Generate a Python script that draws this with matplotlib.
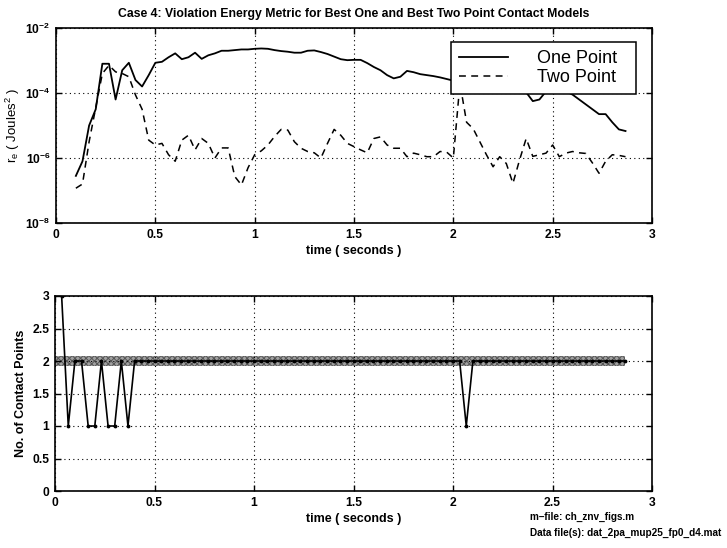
import numpy as np
import matplotlib
matplotlib.use("Agg")
import matplotlib.pyplot as plt

plt.rcParams['font.family'] = ['Liberation Sans', 'DejaVu Sans']
plt.rcParams['mathtext.fontset'] = 'custom'
plt.rcParams['mathtext.rm'] = 'Liberation Sans'
plt.rcParams['mathtext.it'] = 'Liberation Sans'
plt.rcParams['mathtext.bf'] = 'Liberation Sans:bold'
plt.rcParams['hatch.linewidth'] = 0.7

# ---- violation energy metric (log10 of r_e, Joules^2), sampled at 30 Hz from t = 0.1 s ----
t_energy_start = 0.1
sample_rate = 30.0
one_point_log = [
    -6.55, -6.10, -5.00, -4.50, -3.10, -3.10, -4.20, -3.30, -3.07, -3.60,
    -3.80, -3.45, -3.07, -3.04, -2.90, -2.78, -2.96, -2.90, -2.76, -2.95,
    -2.84, -2.78, -2.70, -2.70, -2.68, -2.66, -2.66, -2.64, -2.63, -2.64,
    -2.68, -2.71, -2.73, -2.76, -2.76, -2.70, -2.69, -2.74, -2.80, -2.88,
    -2.96, -2.99, -2.98, -2.98, -3.08, -3.20, -3.30, -3.45, -3.55, -3.50,
    -3.32, -3.36, -3.42, -3.45, -3.48, -3.52, -3.57, -3.62, -3.65, -3.70,
    -3.72, -3.75, -3.78, -3.80, -3.82, -3.85, -3.88, -3.92, -3.98, -4.25,
    -4.20, -3.95, -3.90, -3.90, -3.95, -4.05, -4.20, -4.35, -4.50, -4.65,
    -4.65, -4.90, -5.12, -5.17,
]
two_point_log = [
    -6.93, -6.80, -5.50, -4.45, -3.40, -3.15, -3.35, -3.40, -3.50, -4.06,
    -4.50, -5.45, -5.60, -5.55, -5.90, -6.10, -5.45, -5.30, -5.75, -5.40,
    -5.55, -6.00, -5.69, -5.69, -6.57, -6.83, -6.30, -5.90, -5.78, -5.60,
    -5.34, -5.12, -5.14, -5.50, -5.70, -5.80, -5.84, -6.00, -5.55, -5.12,
    -5.30, -5.55, -5.65, -5.75, -5.84, -5.40, -5.35, -5.60, -5.70, -5.70,
    -5.96, -5.85, -5.90, -5.96, -5.96, -5.80, -5.82, -6.00, -3.70, -4.90,
    -5.10, -5.50, -5.90, -6.27, -5.96, -6.17, -6.78, -6.06, -5.40, -5.95,
    -5.90, -5.85, -5.60, -5.96, -5.85, -5.80, -5.84, -5.86, -6.15, -6.47,
    -6.10, -5.90, -5.92, -5.96,
]

# ---- number of contact points, sampled at 30 Hz from t = 1/30 s ----
t_contact_start = 1.0 / 30.0
contact_points = (
    [3, 1, 2, 2, 1, 1, 2, 1, 1, 2, 1]
    + [2] * 50
    + [1]
    + [2] * 24
)
band_center = 2.0
band_half = 0.08

title_text = "Case 4: Violation Energy Metric for Best One and Best Two Point Contact Models"
x_ticks = [0, 0.5, 1, 1.5, 2, 2.5, 3]
x_ticklabels = ["0", "0.5", "1", "1.5", "2", "2.5", "3"]
y2_ticks = [0, 0.5, 1, 1.5, 2, 2.5, 3]
y2_ticklabels = ["0", "0.5", "1", "1.5", "2", "2.5", "3"]

t_energy = t_energy_start + np.arange(len(one_point_log)) / sample_rate
one_point = 10.0 ** np.array(one_point_log)
two_point = 10.0 ** np.array(two_point_log)
t_contact = t_contact_start + np.arange(len(contact_points)) / sample_rate

W, H = 727, 548
fig = plt.figure(figsize=(W / 100, H / 100), dpi=100)

def frac(x0, y0, x1, y1):
    return [x0 / W, 1 - y1 / H, (x1 - x0) / W, (y1 - y0) / H]

ax1 = fig.add_axes(frac(56, 28, 652, 223))
ax2 = fig.add_axes(frac(55, 296, 652, 491))

tick_font = dict(fontsize=8.7, fontweight='bold')
grid_style = dict(color='black', linestyle=(0, (1, 3)), linewidth=0.8)

for ax in (ax1, ax2):
    for s in ax.spines.values():
        s.set_linewidth(1.2)
        s.set_color('black')
    ax.tick_params(direction='in', length=4, width=1.0, top=True, right=True,
                   labelsize=8.7, pad=4)
    ax.grid(True, which='major', **grid_style)
    ax.set_axisbelow(False)

# ---- top panel ----
ax1.semilogy(t_energy, one_point, color='black', linewidth=1.3, label='One Point')
ax1.semilogy(t_energy, two_point, color='black', linewidth=1.1,
             dashes=(4.5, 3.5), label='Two Point')
ax1.set_xlim(0, 3)
ax1.set_ylim(1e-8, 1e-2)
ax1.set_yticks([1e-8, 1e-6, 1e-4, 1e-2])
ax1.yaxis.set_minor_locator(matplotlib.ticker.NullLocator())
ax1.set_xticks(x_ticks)
ax1.set_xticklabels(x_ticklabels, **tick_font)
for lbl in ax1.get_yticklabels():
    lbl.set_fontweight('bold')
    lbl.set_fontsize(8.7)
ax1.set_xlabel("time ( seconds )", fontsize=9, fontweight='bold', labelpad=3)
ax1.set_ylabel(r"r$_e$ ( Joules$^2$ )", fontsize=9.5, labelpad=2)
ax1.set_title(title_text, fontsize=8.8, fontweight='bold', pad=8)
leg = ax1.legend(loc='upper left', bbox_to_anchor=(0.663, 0.928, 0.310, 0.0),
                 mode='expand', fontsize=13, frameon=True, fancybox=False,
                 framealpha=1, handlelength=2.7, handletextpad=1.6,
                 borderpad=0.45, labelspacing=0.1, borderaxespad=0)
leg.get_frame().set_edgecolor('black')
leg.get_frame().set_linewidth(1.1)

# ---- bottom panel ----
ax2.fill_between([0, t_contact[-1]], band_center - band_half, band_center + band_half,
                 facecolor='#a0a0a0', edgecolor='#555555', hatch='xxxxxx',
                 linewidth=0, zorder=1)
ax2.plot(t_contact, contact_points, color='black', linewidth=1.2, marker='.',
         markersize=3.5, zorder=3)
ax2.set_xlim(0, 3)
ax2.set_ylim(0, 3)
ax2.set_xticks(x_ticks)
ax2.set_xticklabels(x_ticklabels, **tick_font)
ax2.set_yticks(y2_ticks)
ax2.set_yticklabels(y2_ticklabels, **tick_font)
ax2.set_xlabel("time ( seconds )", fontsize=9, fontweight='bold', labelpad=3)
ax2.set_ylabel("No. of Contact Points", fontsize=9, fontweight='bold', labelpad=4)

foot = dict(fontsize=7.2, fontweight='bold', ha='left', va='center')
fig.text(530 / W, 1 - 517 / H, "m\u2013file: ch_znv_figs.m", **foot)
fig.text(530 / W, 1 - 533 / H, "Data file(s): dat_2pa_mup25_fp0_d4.mat", **foot)

fig.savefig("out.png", dpi=100, facecolor='white')
